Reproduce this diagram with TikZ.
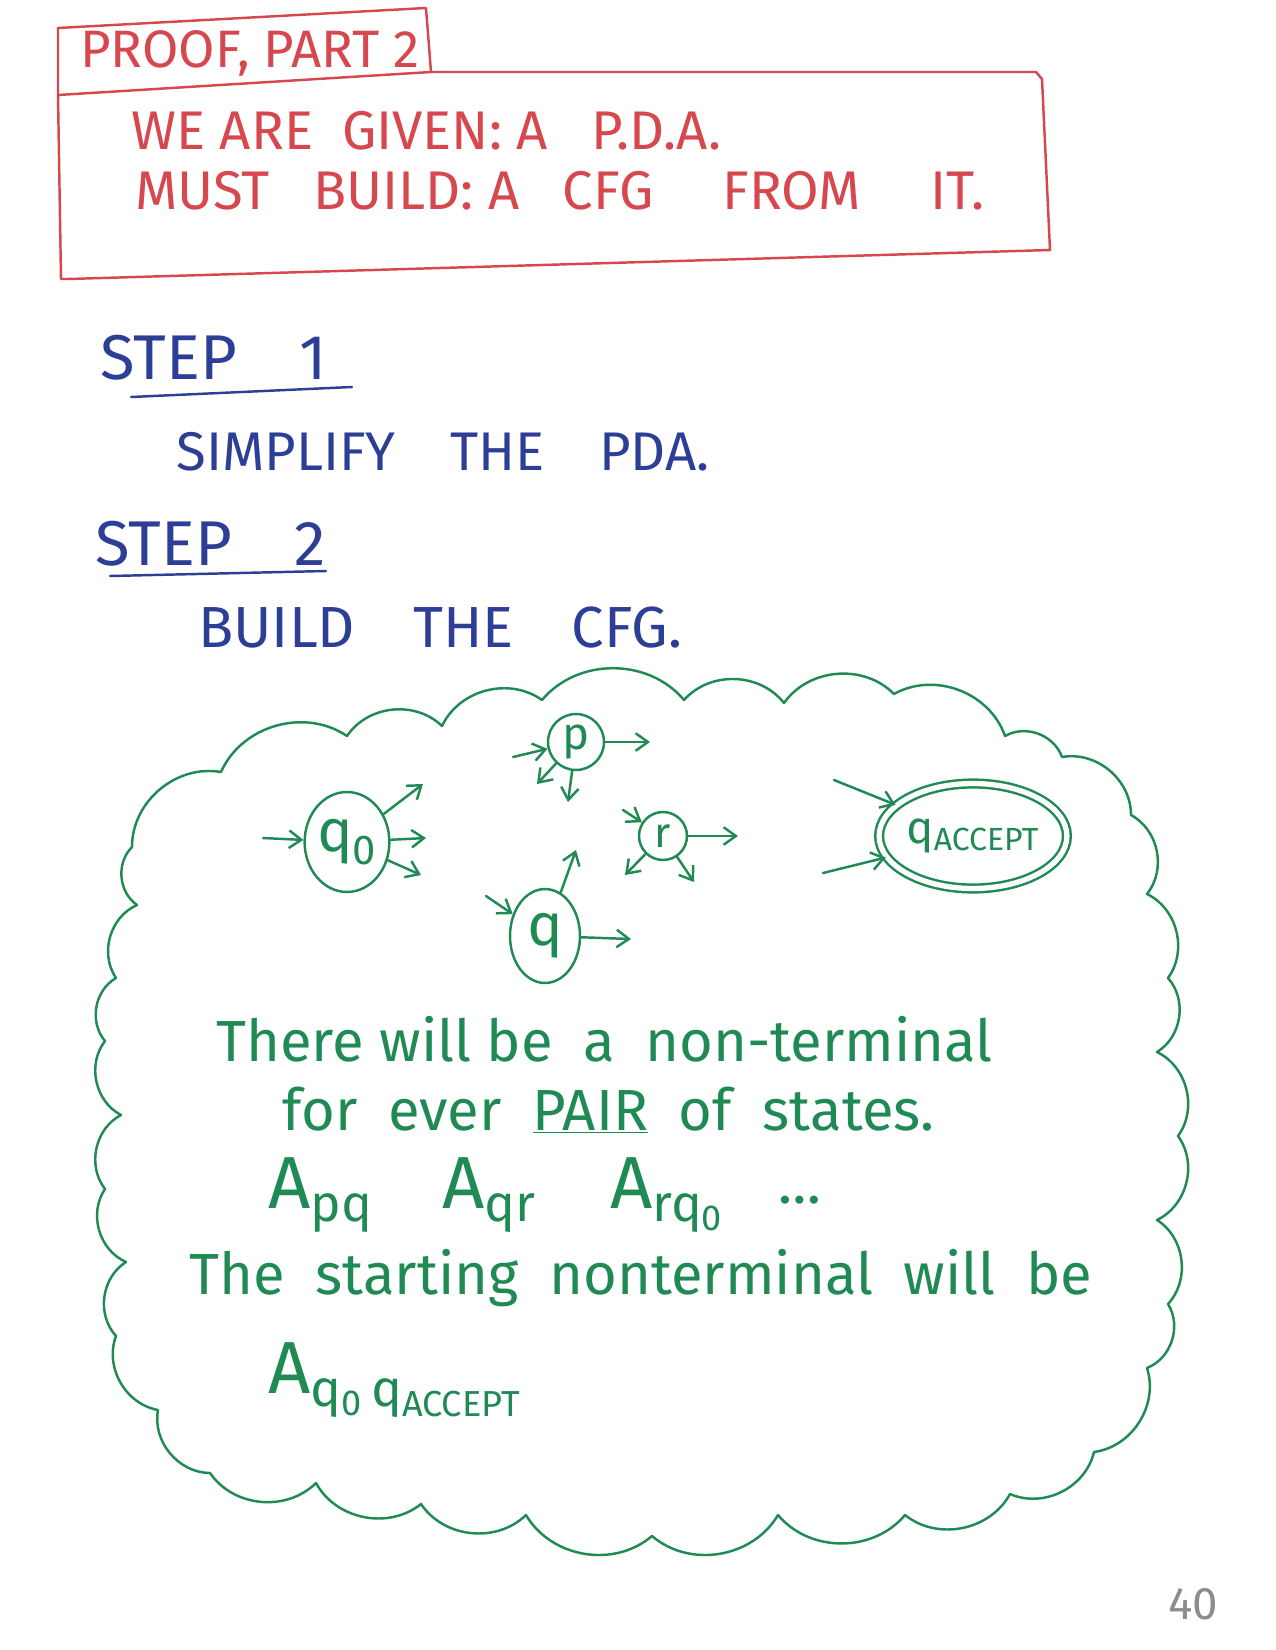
\documentclass[tikz,border=0pt]{standalone}
\usepackage{fontspec}
\setmainfont{Fira Sans}
\usetikzlibrary{shapes.geometric,arrows.meta}

\definecolor{penred}{RGB}{214,72,78}
\definecolor{penblue}{RGB}{45,62,150}
\definecolor{pengreen}{RGB}{32,138,84}

\tikzset{
  pen/.style={line width=1.4pt,line cap=round,line join=round},
  hand/.style={inner sep=0pt,anchor=west},
  state/.style={pen,draw=pengreen,ellipse,inner sep=0pt,text=pengreen},
  move/.style={pen,draw=pengreen,->},
}
\newcommand{\fs}[1]{\fontsize{#1}{#1}\selectfont}

\begin{document}
\begin{tikzpicture}[x=0.02cm,y=-0.02cm,>={Straight Barb[length=7pt,width=10pt]}]
\useasboundingbox (0,0) rectangle (1275,1650);

% header
\draw[pen,penred] (58,95) -- (58,28) -- (426,8) -- (431,72);
\draw[pen,penred] (58,95) -- (431,72) -- (1036,72) -- (1042,79) -- (1050,250) -- (68,279) -- (61,279) -- cycle;
\node[hand,text=penred,font=\fs{30}] (title) at (80,53) {PROOF,\ PART\ 2};
\node[hand,text=penred,font=\fs{31}] (given) at (131,131) {WE\ ARE\ \ GIVEN:\ A\ \ \ P.D.A.};
\node[hand,text=penred,font=\fs{31}] (must) at (135,191) {MUST\ \ \ BUILD:\ A\ \ \ CFG\quad\ FROM\quad\ IT.};

% steps
\node[hand,text=penblue,font=\fs{36}] (step1) at (100,358) {STEP\quad 1};
\draw[pen,penblue] (131,397) -- (352,387);
\node[hand,text=penblue,font=\fs{31}] (simplify) at (176,452) {SIMPLIFY\quad THE\quad PDA.};
\node[hand,text=penblue,font=\fs{36}] (step2) at (95,544) {STEP\quad 2};
\draw[pen,penblue] (110,576) -- (326,571);
\node[hand,text=penblue,font=\fs{33}] (build) at (198,628) {BUILD\quad THE\quad CFG.};

% cloud
\draw[pen,pengreen] (132,847) to[bend left=50] (221,772) to[bend left=50] (347,736)
  to[bend left=50] (442,726) to[bend left=50] (542,700) to[bend left=50] (684,700)
  to[bend left=50] (784,703) to[bend left=50] (894,694) to[bend left=50] (1005,736)
  to[bend left=50] (1062,757) to[bend left=50] (1131,815) to[bend left=50] (1147,894)
  to[bend left=50] (1168,978) to[bend left=50] (1157,1052) to[bend left=50] (1178,1136)
  to[bend left=50] (1157,1220) to[bend left=50] (1168,1304) to[bend left=50] (1147,1368)
  to[bend left=50] (1094,1452) to[bend left=50] (1010,1494) to[bend left=50] (905,1515)
  to[bend left=50] (778,1515) to[bend left=50] (652,1536) to[bend left=50] (526,1515)
  to[bend left=50] (421,1504) to[bend left=50] (316,1483) to[bend left=50] (210,1473)
  to[bend left=50] (158,1410) to[bend left=50] (116,1336) to[bend left=50] (126,1262)
  to[bend left=50] (105,1189) to[bend left=50] (121,1115) to[bend left=50] (105,1041)
  to[bend left=50] (116,978) to[bend left=50] (137,905) to[bend left=50] (132,847);

% states
\node[state,minimum width=1.68cm,minimum height=2cm,font=\fs{34}] (q0) at (347,842) {q\textsubscript{0}};
\node[state,circle,minimum size=1.12cm,font=\fs{26}] (p) at (576,742) {p};
\node[state,circle,minimum size=0.96cm,font=\fs{24}] (r) at (663,836) {r};
\node[state,minimum width=1.4cm,minimum height=1.88cm,font=\fs{34}] (q) at (545,936) {q};
\node[state,double,double distance=3pt,minimum width=3.7cm,minimum height=2.1cm,font=\fs{26}] (qacc) at (973,836) {q\textsubscript{ACCEPT}};

% loose ends of the moves
\coordinate (q0in) at (263,838);
\coordinate (q0a) at (423,784);
\coordinate (q0b) at (426,838);
\coordinate (q0c) at (421,875);
\coordinate (pin) at (513,757);
\coordinate (pa) at (650,742);
\coordinate (pb) at (537,784);
\coordinate (pc) at (568,802);
\coordinate (rin) at (623,810);
\coordinate (ra) at (738,836);
\coordinate (rb) at (625,875);
\coordinate (rc) at (694,882);
\coordinate (qin) at (486,896);
\coordinate (qa) at (576,850);
\coordinate (qb) at (631,939);
\coordinate (accin1) at (834,780);
\coordinate (accin2) at (823,873);

\draw[move] (q0in) -- (q0);
\draw[move] (q0) -- (q0a);
\draw[move] (q0) -- (q0b);
\draw[move] (q0) -- (q0c);
\draw[move] (pin) -- (p);
\draw[move] (p) -- (pa);
\draw[move] (p) -- (pb);
\draw[move] (p) -- (pc);
\draw[move] (rin) -- (r);
\draw[move] (r) -- (ra);
\draw[move] (r) -- (rb);
\draw[move] (r) -- (rc);
\draw[move] (qin) -- (q);
\draw[move] (q) -- (qa);
\draw[move] (q) -- (qb);
\draw[move] (accin1) -- (qacc);
\draw[move] (accin2) -- (qacc);

% notes in the cloud
\node[hand,text=pengreen,font=\fs{33}] (there) at (216,1039) {There will be\ \ a\ \ non-terminal};
\node[hand,text=pengreen,font=\fs{33}] (pair) at (282,1110) {for\ \ ever\ \ \underline{PAIR}\ \ of\ \ states.};
\node[hand,text=pengreen,font=\fs{42}] (apq) at (268,1195) {A\textsubscript{pq}};
\node[hand,text=pengreen,font=\fs{42}] (aqr) at (442,1195) {A\textsubscript{qr}};
\node[hand,text=pengreen,font=\fs{42}] (arq) at (610,1195) {A\textsubscript{rq\textsubscript{0}}};
\node[hand,text=pengreen,font=\fs{33}] (dots) at (778,1200) {\dots};
\node[hand,text=pengreen,font=\fs{33}] (start) at (189,1278) {The\ \ starting\ \ nonterminal\ \ will\ \ be};
\node[hand,text=pengreen,font=\fs{42}] (astart) at (268,1380) {A\textsubscript{q\textsubscript{0}\,q\textsubscript{ACCEPT}}};

% page number
\node[hand,text=black!45,font=\fs{26}] (page) at (1168,1604) {40};
\end{tikzpicture}
\end{document}
